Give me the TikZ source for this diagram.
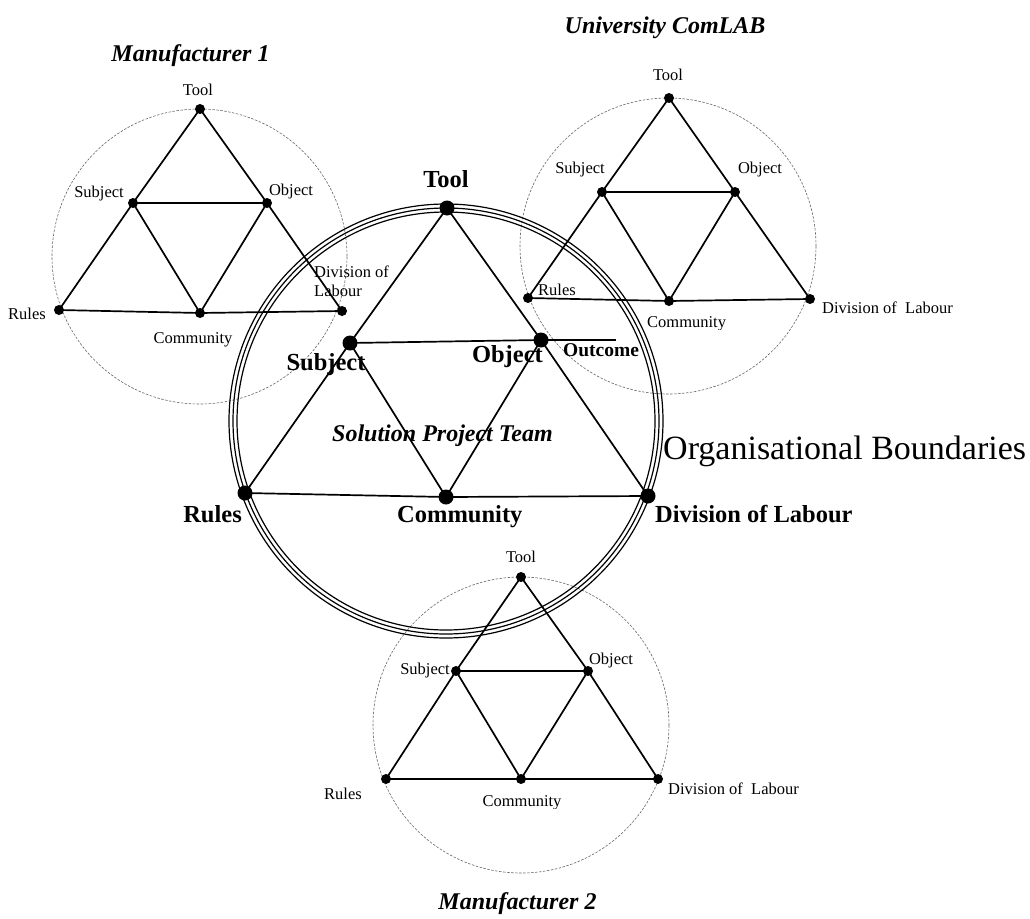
\documentclass[tikz,border=0pt]{standalone}
\usepackage{fontspec}
\setmainfont{Liberation Serif}
\begin{document}
\begin{tikzpicture}[x=1pt,y=-1pt,
  edge/.style={line width=1.7pt},
  sdot/.style={circle,fill=black,inner sep=0pt,minimum size=10pt},
  bdot/.style={circle,fill=black,inner sep=0pt,minimum size=15pt},
  bnd/.style={draw=black!60,line width=0.6pt,dash pattern=on 2.5pt off 1.5pt},
  ring/.style={draw=black,line width=1.2pt},
  sl/.style={font=\fontsize{16.5}{19}\selectfont,inner sep=0pt,anchor=base},
  bl/.style={font=\fontsize{24.5}{28}\selectfont\bfseries,inner sep=0pt,anchor=base},
  ol/.style={font=\fontsize{19.5}{22}\selectfont\bfseries,inner sep=0pt,anchor=base},
  til/.style={font=\fontsize{24}{28}\selectfont\bfseries\itshape,inner sep=0pt,anchor=base},
  big/.style={font=\fontsize{34}{38}\selectfont,inner sep=0pt,anchor=base west}
]
\useasboundingbox (0,0) rectangle (1030,918);

% boundary circles
\draw[bnd] (199.5,256.5) circle[radius=147.5];
\draw[bnd] (668,246) circle[radius=148];
\draw[bnd] (521,725) circle[radius=148];

% central triple circle
\draw[ring] (446,421) circle[radius=209];
\draw[ring] (446,421) circle[radius=213];
\draw[ring] (446,421) circle[radius=217];

% ---------- Manufacturer 1
\node[sdot] (m1t) at (200,109) {};
\node[sdot] (m1s) at (133,203) {};
\node[sdot] (m1o) at (267,203) {};
\node[sdot] (m1r) at (59,310) {};
\node[sdot] (m1c) at (200,313) {};
\node[sdot] (m1d) at (342,311) {};
% ---------- University ComLAB
\node[sdot] (ut) at (669,98) {};
\node[sdot] (us) at (602,192) {};
\node[sdot] (uo) at (735,192) {};
\node[sdot] (ur) at (528,298) {};
\node[sdot] (uc) at (669,301) {};
\node[sdot] (ud) at (810,299) {};
% ---------- Manufacturer 2
\node[sdot] (m2t) at (521,577) {};
\node[sdot] (m2s) at (456,671) {};
\node[sdot] (m2o) at (588,671) {};
\node[sdot] (m2r) at (386,779) {};
\node[sdot] (m2c) at (521,779) {};
\node[sdot] (m2d) at (658,779) {};
% ---------- central
\node[bdot] (ct) at (447,208) {};
\node[bdot] (cs) at (350,343) {};
\node[bdot] (co) at (541,340) {};
\node[bdot] (cr) at (245,493) {};
\node[bdot] (cc) at (446,497) {};
\node[bdot] (cd) at (648,496) {};
\coordinate (cout) at (616,340);

\foreach \p in {m1,u,m2,c}{
  \draw[edge] (\p t.center) -- (\p s.center) -- (\p r.center) -- (\p c.center) -- (\p d.center) -- (\p o.center) -- (\p t.center);
  \draw[edge] (\p s.center) -- (\p o.center) -- (\p c.center) -- (\p s.center);
}
\draw[edge] (co.center) -- (cout);

% labels Manufacturer 1
\node[til] (m1title) at (190.5,61) {Manufacturer 1};
\node[sl] (m1tl) at (198,95) {Tool};
\node[sl] (m1sl) at (99,197) {Subject};
\node[sl] (m1ol) at (291,195) {Object};
\node[sl] (m1rl) at (27,319) {Rules};
\node[sl] (m1cl) at (193,343) {Community};
\node[sl,anchor=base west] (m1dl) at (314,277) {Division of};
\node[sl,anchor=base west] (m1dl2) at (314,296) {Labour};

% labels University ComLAB
\node[til] (utitle) at (665,33) {University ComLAB};
\node[sl] (utl) at (668,80) {Tool};
\node[sl] (usl) at (580,173) {Subject};
\node[sl] (uol) at (760,173) {Object};
\node[sl] (url) at (557,295) {Rules};
\begin{scope}
  \clip (640,300) rectangle (740,329);
  \node[sl,anchor=base west] (ucl) at (647,327) {Community};
\end{scope}
\node[sl,anchor=base west] (udl) at (822,313) {Division of\ \ Labour};

% labels Manufacturer 2
\node[til] (m2title) at (517.5,909) {Manufacturer 2};
\node[sl] (m2tl) at (521,562) {Tool};
\node[sl] (m2sl) at (425,674) {Subject};
\node[sl] (m2ol) at (611,664) {Object};
\node[sl] (m2rl) at (343,799) {Rules};
\begin{scope}
  \clip (470,785) rectangle (575,808);
  \node[sl] (m2cl) at (522,806) {Community};
\end{scope}
\node[sl,anchor=base west] (m2dl) at (668,794) {Division of\ \ Labour};

% central labels
\node[bl] (ctl) at (446,187) {Tool};
\node[bl] (csl) at (326,370) {Subject};
\node[bl,anchor=base east] (col) at (543,362) {Object};
\node[ol,anchor=base west] (coutl) at (563,356) {Outcome};
\node[bl,anchor=base east] (crl) at (242,522) {Rules};
\node[bl,anchor=base west] (ccl) at (397,522) {Community};
\node[bl,anchor=base west] (cdl) at (655,522) {Division of Labour};
\node[til,anchor=base west] (spt) at (332,441) {Solution Project Team};
\node[big] (orgb) at (663,459) {Organisational Boundaries};
\end{tikzpicture}
\end{document}
